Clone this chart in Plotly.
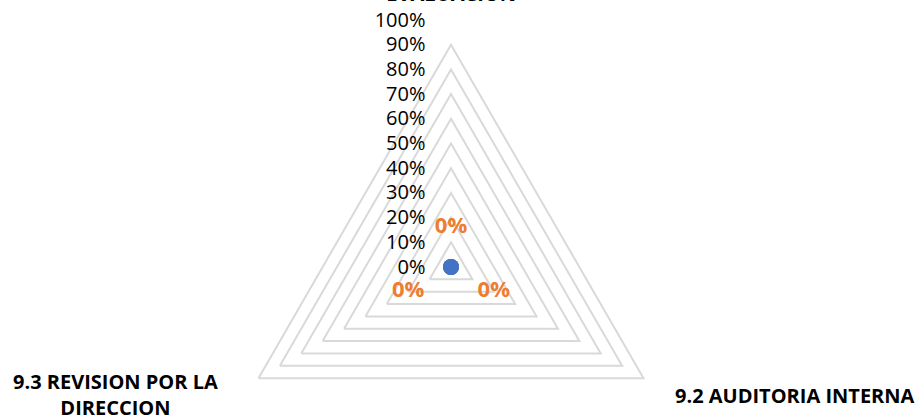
import plotly.graph_objects as go

# ---- data ----
categories = ["9.1 SEGUIMIENTO, MEDICION, ANALISIS Y EVALUACION",
              "9.2 AUDITORIA INTERNA",
              "9.3 REVISION POR LA DIRECCION"]
category_labels = ["9.1 SEGUIMIENTO, MEDICION,<br>ANALISIS Y<br>EVALUACION",
                   "9.2 AUDITORIA INTERNA",
                   "9.3 REVISION POR LA<br>DIRECCION"]
values = [0.0, 0.0, 0.0]
data_labels = ["0%", "0%", "0%"]
radial_tickvals = [0, 0.1, 0.2, 0.3, 0.4, 0.5, 0.6, 0.7, 0.8, 0.9, 1.0]
radial_ticktext = ["0%", "10%", "20%", "30%", "40%", "50%", "60%", "70%", "80%", "90%", "100%"]

# ---- layout geometry ----
W, H = 922, 520          # page shows only the top 419 px, like the cropped original
cx, cy, R = 451, 267, 247
label_offsets = [0.16, 0.2, 0.2]

TICK_FONT = "Open Sans"
BOLD_FONT = "Open Sans"

# plotly's polygon range test treats r == range min as outside, which would hide
# the zero-valued markers; nudge by a sub-pixel amount so they are drawn.
EPS = 1e-6


def py(v):
    return 1 - v / H


fig = go.Figure()
fig.add_trace(go.Scatterpolar(
    r=[max(v, EPS) for v in values], theta=categories, mode="lines+markers",
    line=dict(color="#4472C4", width=2.25),
    marker=dict(color="#4472C4", size=16),
    cliponaxis=False, hoverinfo="skip", showlegend=False))
fig.add_trace(go.Scatterpolar(
    r=[v + o for v, o in zip(values, label_offsets)], theta=categories,
    mode="text", text=data_labels, textposition="middle center",
    textfont=dict(color="#ED7D31", size=22, family=BOLD_FONT, weight="bold"),
    cliponaxis=False, hoverinfo="skip", showlegend=False))

fig.update_layout(
    width=W, height=H, margin=dict(l=0, r=0, t=0, b=0),
    paper_bgcolor="white", plot_bgcolor="white", showlegend=False,
    polar=dict(
        domain=dict(x=[(cx - R) / W, (cx + R) / W],
                    y=[py(cy + R), py(cy - R)]),
        gridshape="linear",
        bgcolor="white",
        radialaxis=dict(
            range=[0, 1], angle=90, side="counterclockwise",
            tickvals=radial_tickvals, ticktext=radial_ticktext,
            tickangle=90,
            showline=False, gridcolor="#D9D9D9", gridwidth=1.5,
            ticks="outside", ticklen=18, tickcolor="rgba(0,0,0,0)",
            tickfont=dict(family=TICK_FONT, size=20, color="#000000")),
        angularaxis=dict(
            type="category", categoryarray=categories, rotation=90,
            direction="clockwise", showticklabels=False, showgrid=False,
            showline=False, ticks=""),
    ),
)

label_font = dict(family=BOLD_FONT, size=20, color="#000000", weight="bold")
fig.add_annotation(text=category_labels[0], xref="paper", yref="paper",
                   x=cx / W, y=1, xanchor="center", yanchor="bottom",
                   yshift=-9, showarrow=False, align="center", font=label_font)
fig.add_annotation(text=category_labels[1], xref="paper", yref="paper",
                   x=673 / W, y=py(395), xanchor="left", yanchor="middle",
                   showarrow=False, align="left", font=label_font)
fig.add_annotation(text=category_labels[2], xref="paper", yref="paper",
                   x=115 / W, y=py(394), xanchor="center", yanchor="middle",
                   showarrow=False, align="center", font=label_font)

fig.write_html(
    "out.html",
    post_script="document.documentElement.style.overflow='hidden';"
                "document.body.style.overflow='hidden';")
